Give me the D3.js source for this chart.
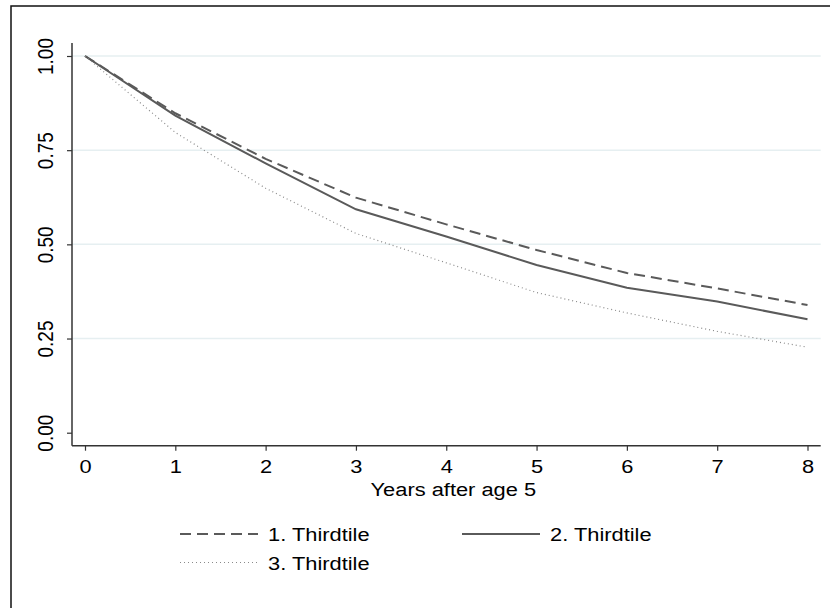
<!DOCTYPE html>
<html>
<head>
<meta charset="utf-8">
<script src="https://cdn.jsdelivr.net/npm/d3@7"></script>
<style>
  body { margin: 0; background: #fff; }
  svg { display: block; font-family: 'Liberation Sans', Arial, sans-serif; }
</style>
</head>
<body>
<div id="wrapper"></div>
<script>
// data
const years = [0, 1, 2, 3, 4, 5, 6, 7, 8]
const thirdtile1 = [1.0, 0.848, 0.727, 0.624, 0.553, 0.485, 0.424, 0.383, 0.339]
const thirdtile2 = [1.0, 0.842, 0.715, 0.593, 0.521, 0.445, 0.385, 0.348, 0.301]
const thirdtile3 = [1.0, 0.797, 0.649, 0.529, 0.451, 0.372, 0.318, 0.269, 0.227]
const yTicks = [0, 0.25, 0.5, 0.75, 1]
const gridTicks = [0.25, 0.5, 0.75, 1]
const seriesNames = ['1. Thirdtile', '2. Thirdtile', '3. Thirdtile']
const xTitle = 'Years after age 5'

const width = 830
const height = 608
// the original graph is a bit wider than tall, text looks stretched sideways
const stretch = 1.15
const fontSize = '19px'

const wrapper = d3
  .select('#wrapper')
  .append('svg')
  .attr('width', width)
  .attr('height', height)

// outer frame (runs off the right/bottom edge like the original)
wrapper
  .append('rect')
  .attr('x', 11)
  .attr('y', 6)
  .attr('width', width)
  .attr('height', height)
  .attr('fill', 'none')
  .attr('stroke', '#111')
  .attr('stroke-width', 1.5)

const plot = { left: 72, right: 820.7, top: 43, bottom: 445.7 }

const xScale = d3.scaleLinear().domain([0, 8]).range([85, 807.5])
const yScale = d3.scaleLinear().domain([0, 1]).range([432.7, 56])

// gridlines
wrapper
  .append('g')
  .selectAll('line')
  .data(gridTicks)
  .join('line')
  .attr('x1', plot.left)
  .attr('x2', plot.right)
  .attr('y1', (d) => yScale(d))
  .attr('y2', (d) => yScale(d))
  .attr('stroke', '#e6eff1')
  .attr('stroke-width', 1.5)

// axes
const yAxis = wrapper
  .append('g')
  .attr('transform', `translate(${plot.left},0)`)
  .call(d3.axisLeft(yScale).tickValues(yTicks).tickFormat(d3.format('.2f')).tickSize(5).tickSizeOuter(0))
yAxis.select('.domain').remove()
yAxis
  .append('line')
  .attr('y1', plot.top)
  .attr('y2', plot.bottom)
  .attr('stroke', '#333')
  .attr('stroke-width', 1.5)
yAxis.selectAll('.tick line').attr('stroke', '#333').attr('stroke-width', 1.2)
yAxis
  .selectAll('.tick text')
  .attr('x', null)
  .attr('dy', null)
  .attr('transform', `translate(-19,0) scale(${stretch},1) rotate(-90)`)
  .attr('text-anchor', 'middle')
  .attr('fill', '#000')
  .style('font-size', fontSize)

const xAxis = wrapper
  .append('g')
  .attr('transform', `translate(0,${plot.bottom})`)
  .call(d3.axisBottom(xScale).tickValues(years).tickFormat(d3.format('d')).tickSize(5).tickSizeOuter(0))
xAxis.select('.domain').remove()
xAxis
  .append('line')
  .attr('x1', plot.left)
  .attr('x2', plot.right)
  .attr('stroke', '#333')
  .attr('stroke-width', 1.5)
xAxis.selectAll('.tick line').attr('stroke', '#333').attr('stroke-width', 1.2)
xAxis
  .selectAll('.tick text')
  .attr('y', null)
  .attr('dy', null)
  .attr('transform', `translate(0,27) scale(${stretch},1)`)
  .attr('fill', '#000')
  .style('font-size', fontSize)

wrapper
  .append('text')
  .attr('transform', `translate(${(plot.left + plot.right) / 2 + 7},496) scale(${stretch},1)`)
  .attr('text-anchor', 'middle')
  .style('font-size', fontSize)
  .text(xTitle)

// lines
const styles = [
  { color: '#5a5a5a', width: 2, dash: '11,6' },
  { color: '#5a5a5a', width: 2, dash: null },
  { color: '#8a8a8a', width: 1.2, dash: '1,3' },
]
const series = [thirdtile1, thirdtile2, thirdtile3]

const lineGenerator = d3
  .line()
  .x((d, i) => xScale(years[i]))
  .y((d) => yScale(d))

series.forEach((s, i) => {
  wrapper
    .append('path')
    .datum(s)
    .attr('d', lineGenerator)
    .attr('fill', 'none')
    .attr('stroke', styles[i].color)
    .attr('stroke-width', styles[i].width)
    .attr('stroke-dasharray', styles[i].dash)
})

// legend
const legendPos = [
  { x: 180, y: 534 },
  { x: 462, y: 534 },
  { x: 180, y: 562.5 },
]
const legend = wrapper.append('g')
seriesNames.forEach((name, i) => {
  const p = legendPos[i]
  legend
    .append('line')
    .attr('x1', p.x)
    .attr('x2', p.x + 78)
    .attr('y1', p.y)
    .attr('y2', p.y)
    .attr('stroke', styles[i].color)
    .attr('stroke-width', styles[i].width)
    .attr('stroke-dasharray', styles[i].dash)
  legend
    .append('text')
    .attr('transform', `translate(${p.x + 88},${p.y + 7}) scale(${stretch},1)`)
    .style('font-size', fontSize)
    .text(name)
})
</script>
</body>
</html>
